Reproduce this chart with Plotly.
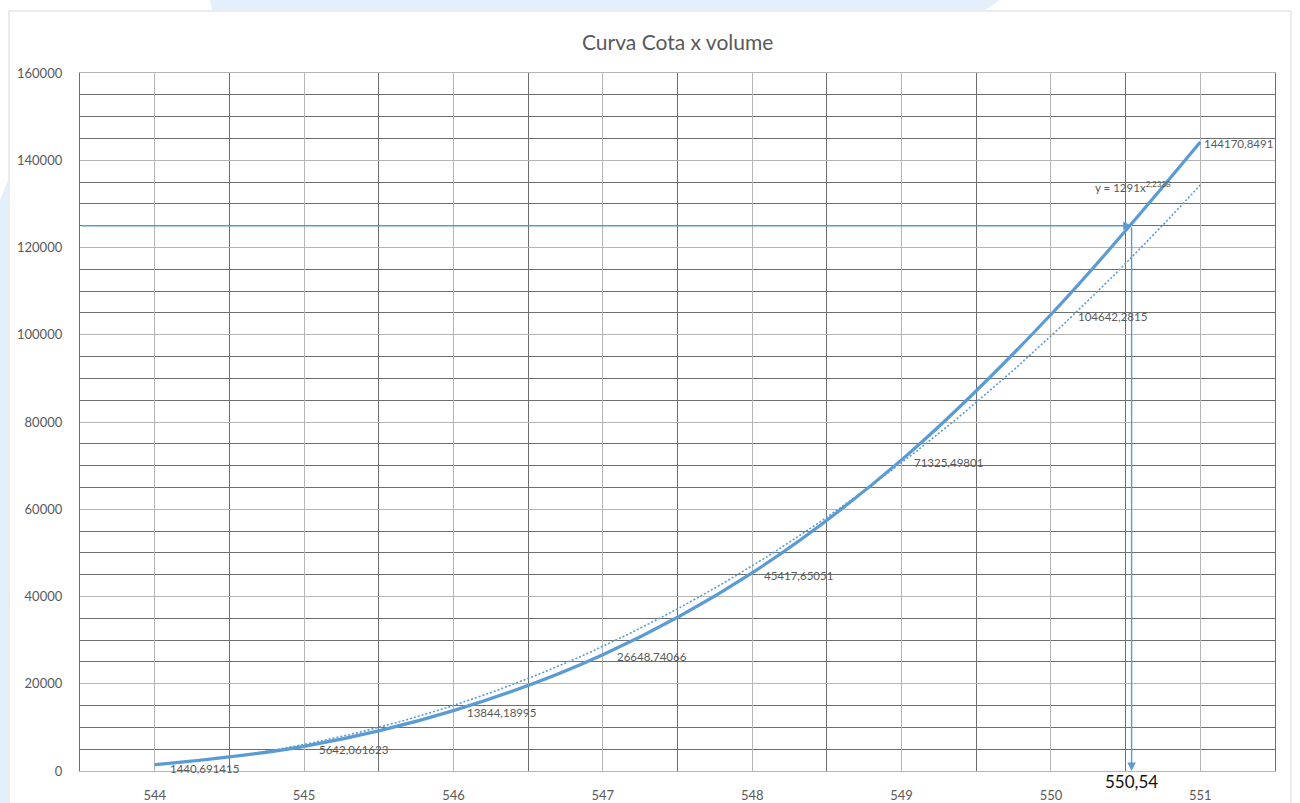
import plotly.graph_objects as go
import numpy as np

# ---- data ----
cota = [544, 545, 546, 547, 548, 549, 550, 551]
volume = [1440.691415, 5642.061623, 13844.18995, 26648.74066,
          45417.65051, 71325.49801, 104642.2815, 144170.8491]
labels = ["1440,691415", "5642,061623", "13844,18995", "26648,74066",
          "45417,65051", "71325,49801", "104642,2815", "144170,8491"]
# power trendline shown on the chart: y = 1291 x^2,2338 (x = point index)
trend_a = 1291
trend_b = 2.2338
target_volume = 125000
target_cota = 550.54
target_label = "550,54"
title = "Curva Cota x volume"

# label placement (style, pixels)
label_dx = [13, 13, 12, 12, 10, 10, 25, 2]
label_dy = [4, 3, 2, 2, 3, 3, 2, 1]

W, H = 1300, 803
ML, MT = 80, 73
MR = W - 1275
MB = H - 771
PW, PH = W - ML - MR, H - MT - MB

def px(x):
    return (x - ML) / PW

def py(y):
    return 1 - (y - MT) / PH

blue = "#5B9BD5"
gray_txt = "#595959"
FONT = "Lato, Open Sans, sans-serif"

fig = go.Figure()

# trendline (dotted)
tx = np.linspace(cota[0], cota[-1], 160)
tidx = tx - cota[0] + 1
ty = trend_a * tidx ** trend_b
fig.add_trace(go.Scatter(x=tx, y=ty, mode="lines",
                         line=dict(color=blue, width=1.6, dash="2px,2px"),
                         hoverinfo="skip", showlegend=False))

# main curve
fig.add_trace(go.Scatter(x=cota, y=volume, mode="lines",
                         line=dict(color=blue, width=3.2, shape="spline", smoothing=1.0),
                         showlegend=False))

annotations = [
    dict(text=title, x=0.5, xref="paper", y=py(42), yref="paper", showarrow=False,
         font=dict(family=FONT, size=21, color=gray_txt),
         xanchor="center", yanchor="middle"),
    dict(text="y = 1291x<sup>2,2338</sup>", x=550.55, y=134000, xref="x", yref="y",
         showarrow=False, font=dict(family=FONT, size=11.5, color=gray_txt),
         xanchor="center", yanchor="middle"),
    dict(x=target_cota, y=target_volume, ax=543.5, ay=target_volume, xref="x", yref="y",
         axref="x", ayref="y", showarrow=True, arrowhead=2, arrowsize=1.2, arrowwidth=1.4,
         arrowcolor=blue, text=""),
    dict(x=target_cota, y=0, ax=target_cota, ay=target_volume, xref="x", yref="y",
         axref="x", ayref="y", showarrow=True, arrowhead=2, arrowsize=1.2, arrowwidth=1.4,
         arrowcolor=blue, text=""),
    dict(text=target_label, x=target_cota, xref="x", y=py(781), yref="paper", showarrow=False,
         font=dict(family=FONT, size=17, color="#111111"),
         xanchor="center", yanchor="middle"),
]
for xv, yv, lab, dx, dy in zip(cota, volume, labels, label_dx, label_dy):
    annotations.append(dict(text=lab, x=xv, y=yv, xref="x", yref="y", showarrow=False,
                            xanchor="left", yanchor="middle", xshift=dx, yshift=-dy,
                            font=dict(family=FONT, size=11.5, color=gray_txt)))

shapes = [
    # chart area border
    dict(type="rect", xref="paper", yref="paper", layer="below",
         x0=px(9), x1=px(1291), y0=py(810), y1=py(11),
         fillcolor="white", line=dict(color="#D9D9D9", width=1)),
    # light blue background decorations
    dict(type="path", xref="paper", yref="paper", layer="below",
         path=f"M {px(0)} {py(200)} L {px(8)} {py(180)} L {px(8)} {py(803)} L {px(0)} {py(803)} Z",
         fillcolor="#E3EFFB", line=dict(width=0)),
    dict(type="path", xref="paper", yref="paper", layer="below",
         path=f"M {px(210)} {py(0)} L {px(1000)} {py(0)} L {px(985)} {py(10)} L {px(212)} {py(10)} Z",
         fillcolor="#E3EFFB", line=dict(width=0)),
]

fig.update_layout(
    width=W, height=H,
    margin=dict(l=ML, r=MR, t=MT, b=MB),
    paper_bgcolor="white", plot_bgcolor="rgba(0,0,0,0)",
    annotations=annotations, shapes=shapes,
    font=dict(family=FONT, color=gray_txt),
)

fig.update_xaxes(range=[543.5, 551.5], tick0=544, dtick=1, showgrid=True, automargin=False,
                 gridcolor="#B5B5B5", gridwidth=1.3, zeroline=False,
                 minor=dict(dtick=0.5, tick0=543.5, showgrid=True, gridcolor="#6E6E6E", gridwidth=1.3),
                 showline=True, linecolor="#B5B5B5", linewidth=1.3, mirror=True,
                 ticks="", tickfont=dict(family=FONT, size=13, color=gray_txt), ticklabelstandoff=12)
fig.update_yaxes(range=[0, 160000], dtick=20000, showgrid=True, automargin=False,
                 gridcolor="#B5B5B5", gridwidth=1.3, zeroline=False,
                 minor=dict(dtick=5000, showgrid=True, gridcolor="#6E6E6E", gridwidth=1.3),
                 showline=True, linecolor="#6E6E6E", linewidth=1.3, mirror=True,
                 ticks="", tickfont=dict(family=FONT, size=13, color=gray_txt), ticklabelstandoff=14,
                 tickformat="d")

fig.write_html("out.html", config={"displayModeBar": False},
               post_script="document.body.style.margin='0';")
